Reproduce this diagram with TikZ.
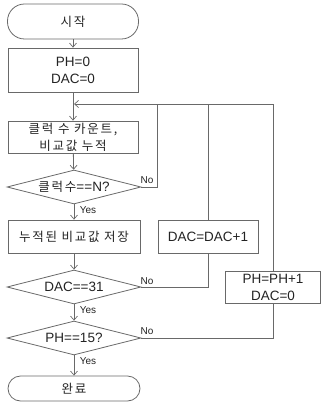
\documentclass[tikz,border=0pt]{standalone}
\usepackage{fontspec}
\setmainfont{Liberation Sans}
\newfontfamily\kr[LetterSpace=14]{Noto Sans CJK KR}
\usetikzlibrary{shapes.geometric,arrows.meta}
\definecolor{linecol}{RGB}{105,105,105}
\definecolor{txtcol}{RGB}{35,35,35}
\newcommand{\krs}{\kr\fontsize{12.5}{17}\selectfont}
\tikzset{
  base/.style={draw=linecol,line width=0.8pt,text=txtcol,inner sep=0pt,font=\fontsize{13.5}{17}\selectfont,align=center},
  term/.style={base,rectangle,minimum width=131pt},
  proc/.style={base,rectangle,minimum height=33pt},
  dec/.style={base,diamond,aspect=3.9,minimum width=134pt,minimum height=34pt},
  conn/.style={draw=linecol,line width=0.8pt},
  arr/.style={conn,-{Straight Barb[length=4pt,width=7pt,line width=0.7pt]}},
  lab/.style={text=txtcol,font=\fontsize{10}{10}\selectfont,inner sep=0pt}
}
\begin{document}
\begin{tikzpicture}[x=1pt,y=-1pt]
\useasboundingbox (0,0) rectangle (321,403);
\node[term,minimum height=35pt,rounded corners=17pt] (start) at (73,21.5) {\krs 시작};
\node[proc,minimum width=130pt,minimum height=44pt] (init) at (73,70) {PH=0\\DAC=0};
\node[proc,minimum width=130pt,minimum height=32pt] (count) at (73,137) {\krs 클럭 수 카운트,\\\krs 비교값 누적};
\node[dec] (d1) at (74,187) {\makebox[0pt]{{\krs 클럭수}==N?}};
\node[proc,minimum width=132pt] (save) at (74,236.5) {\krs 누적된 비교값 저장};
\node[proc,minimum width=100pt] (inc) at (208,236.5) {DAC=DAC+1};
\node[dec] (d2) at (74,287) {\makebox[0pt]{DAC==31}};
\node[proc,minimum width=95pt,minimum height=32pt] (ph) at (273,287) {PH=PH+1\\DAC=0};
\node[dec] (d3) at (74,338) {\makebox[0pt]{PH==15?}};
\node[term,minimum width=132pt,minimum height=25pt,rounded corners=12.5pt] (done) at (74,388.5) {\krs 완료};
\coordinate (join) at (74,104);
\coordinate (c1) at (157,104);
\coordinate (c2) at (208,104);
\coordinate (c3) at (273,104);

\draw[arr] (start) -- (init);
\draw[arr] (init.south) -- (count.north);
\draw[arr] (count) -- (d1);
\draw[arr] (d1) -- (save);
\draw[arr] (save) -- (d2);
\draw[arr] (d2) -- (d3);
\draw[arr] (d3) -- (done);

\draw[conn] (d1.east) -| (c1);
\draw[conn] (inc.north) -- (c2);
\draw[conn] (d2.east) -| (inc.south);
\draw[conn] (d3.east) -| (ph.south);
\draw[conn] (ph.north) -- (c3);
\draw[arr] (c3) -- (join);

\node[lab] (n1) at (147,180) {No};
\node[lab] (y1) at (88,210) {Yes};
\node[lab] (n2) at (147,281) {No};
\node[lab] (y2) at (88,310) {Yes};
\node[lab] (n3) at (147,331) {No};
\node[lab] (y3) at (88,361) {Yes};
\end{tikzpicture}
\end{document}
